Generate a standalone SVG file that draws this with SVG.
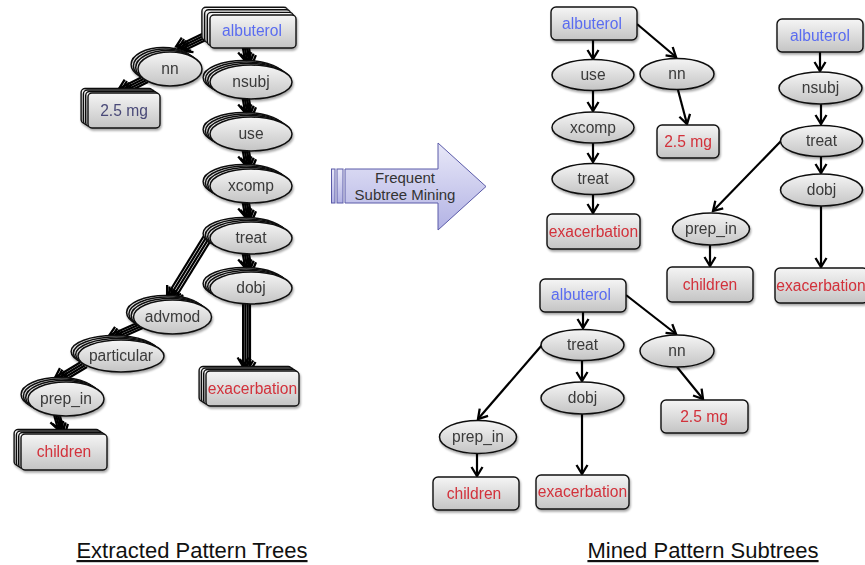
<svg xmlns="http://www.w3.org/2000/svg" xmlns:xlink="http://www.w3.org/1999/xlink" width="865" height="565" viewBox="0 0 865 565">
<style>
.s{fill:url(#g);stroke:#111;stroke-width:1.5}
.b{fill:url(#g);stroke:#111;stroke-width:1.4}
.t{font-family:"Liberation Sans",Arial,sans-serif;font-size:15.6px;text-anchor:middle;fill:#3a3a3a}
.blue{fill:#5a6cf0}
.red{fill:#d2303a}
.navy{fill:#4a4a78}
.e{stroke:#000;stroke-width:2.2;fill:none;marker-end:url(#ah)}
.le{stroke:#000;stroke-width:2.2;fill:none;marker-end:url(#ah2)}
.ttl{font-family:"Liberation Sans",Arial,sans-serif;font-size:22px;text-anchor:middle;fill:#111;text-decoration:underline}
.at{font-family:"Liberation Sans",Arial,sans-serif;font-size:15px;text-anchor:middle;fill:#333}
</style>
<defs>
<linearGradient id="g" x1="0" y1="0" x2="0" y2="1">
<stop offset="0" stop-color="#f5f5f5"/>
<stop offset="1" stop-color="#c4c4c4"/>
</linearGradient>
<linearGradient id="ag" x1="0" y1="0" x2="0" y2="1">
<stop offset="0" stop-color="#e8e8f8"/>
<stop offset="1" stop-color="#b2b2e4"/>
</linearGradient>
<filter id="sh" x="-20%" y="-20%" width="150%" height="160%">
<feDropShadow dx="1" dy="2" stdDeviation="1.3" flood-color="#000" flood-opacity="0.35"/>
</filter>
<marker id="ah" viewBox="-11 -7 13 14" refX="0" refY="0" markerWidth="13" markerHeight="14" markerUnits="userSpaceOnUse" orient="auto">
<path d="M-9,-5.5 L0,0 L-9,5.5" fill="none" stroke="#000" stroke-width="2.3"/>
</marker>
<marker id="ah2" viewBox="-11 -7 13 14" refX="0" refY="0" markerWidth="13" markerHeight="14" markerUnits="userSpaceOnUse" orient="auto">
<path d="M-9,-5.5 L0,0 L-9,5.5" fill="none" stroke="#000" stroke-width="2.3"/>
</marker>
</defs>
<rect width="865" height="565" fill="#fff"/>

<!-- Left connectors (stacked) -->
<g id="connectors-left">
<g id="le0">
<line class="le" x1="210" y1="38" x2="183" y2="51"/>
<line class="le" x1="148" y1="82" x2="126" y2="93"/>
<line class="le" x1="249" y1="48" x2="252" y2="65"/>
<line class="le" x1="249" y1="99" x2="252" y2="117"/>
<line class="le" x1="249" y1="151" x2="252" y2="169"/>
<line class="le" x1="249" y1="203" x2="252" y2="221"/>
<line class="le" x1="211" y1="240" x2="174" y2="300"/>
<line class="le" x1="249" y1="254" x2="252" y2="272"/>
<line class="le" x1="145" y1="327" x2="116" y2="340"/>
<line class="le" x1="87" y1="367" x2="62" y2="382"/>
<line class="le" x1="60" y1="416" x2="65" y2="434"/>
<line class="le" x1="250" y1="304" x2="250" y2="371"/>
</g>
<use xlink:href="#le0" href="#le0" transform="translate(-2.3,-1.5)"/>
<use xlink:href="#le0" href="#le0" transform="translate(-4.6,-3)"/>
<use xlink:href="#le0" href="#le0" transform="translate(-6.9,-4.5)"/>
</g>

<!-- Left stacked nodes -->
<g id="L-albuterol" filter="url(#sh)">
<rect class="b" x="201.9" y="7.2" width="86" height="33" rx="4"/>
<rect class="b" x="204.6" y="9.8" width="86" height="33" rx="4"/>
<rect class="b" x="207.3" y="12.4" width="86" height="33" rx="4"/>
<rect class="b" x="210" y="15" width="86" height="33" rx="4"/>
<text class="t blue" x="252" y="36">albuterol</text>
</g>
<g id="L-nn" filter="url(#sh)">
<ellipse class="s" cx="163.1" cy="64.5" rx="32" ry="17"/>
<ellipse class="s" cx="165.4" cy="66" rx="32" ry="17"/>
<ellipse class="s" cx="167.7" cy="67.5" rx="32" ry="17"/>
<ellipse class="s" cx="170" cy="69" rx="32" ry="17"/>
<text class="t" x="170" y="74">nn</text>
</g>
<g id="L-2.5mg" filter="url(#sh)">
<rect class="b" x="81.1" y="88.5" width="72" height="35" rx="4"/>
<rect class="b" x="83.4" y="90" width="72" height="35" rx="4"/>
<rect class="b" x="85.7" y="91.5" width="72" height="35" rx="4"/>
<rect class="b" x="88" y="93" width="72" height="35" rx="4"/>
<text class="t navy" x="124" y="116">2.5 mg</text>
</g>
<g id="L-nsubj" filter="url(#sh)">
<ellipse class="s" cx="244.1" cy="77.5" rx="41" ry="17"/>
<ellipse class="s" cx="246.4" cy="79" rx="41" ry="17"/>
<ellipse class="s" cx="248.7" cy="80.5" rx="41" ry="17"/>
<ellipse class="s" cx="251" cy="82" rx="41" ry="17"/>
<text class="t" x="251" y="87">nsubj</text>
</g>
<g id="L-use" filter="url(#sh)">
<ellipse class="s" cx="244.1" cy="129.5" rx="41" ry="17"/>
<ellipse class="s" cx="246.4" cy="131" rx="41" ry="17"/>
<ellipse class="s" cx="248.7" cy="132.5" rx="41" ry="17"/>
<ellipse class="s" cx="251" cy="134" rx="41" ry="17"/>
<text class="t" x="251" y="139">use</text>
</g>
<g id="L-xcomp" filter="url(#sh)">
<ellipse class="s" cx="244.1" cy="181.5" rx="41" ry="17"/>
<ellipse class="s" cx="246.4" cy="183" rx="41" ry="17"/>
<ellipse class="s" cx="248.7" cy="184.5" rx="41" ry="17"/>
<ellipse class="s" cx="251" cy="186" rx="41" ry="17"/>
<text class="t" x="251" y="191">xcomp</text>
</g>
<g id="L-treat" filter="url(#sh)">
<ellipse class="s" cx="244.1" cy="233.5" rx="41" ry="16"/>
<ellipse class="s" cx="246.4" cy="235" rx="41" ry="16"/>
<ellipse class="s" cx="248.7" cy="236.5" rx="41" ry="16"/>
<ellipse class="s" cx="251" cy="238" rx="41" ry="16"/>
<text class="t" x="251" y="243">treat</text>
</g>
<g id="L-dobj" filter="url(#sh)">
<ellipse class="s" cx="244.1" cy="283.5" rx="41" ry="16"/>
<ellipse class="s" cx="246.4" cy="285" rx="41" ry="16"/>
<ellipse class="s" cx="248.7" cy="286.5" rx="41" ry="16"/>
<ellipse class="s" cx="251" cy="288" rx="41" ry="16"/>
<text class="t" x="251" y="293">dobj</text>
</g>
<g id="L-advmod" filter="url(#sh)">
<ellipse class="s" cx="165.6" cy="312.5" rx="39" ry="17"/>
<ellipse class="s" cx="167.9" cy="314" rx="39" ry="17"/>
<ellipse class="s" cx="170.2" cy="315.5" rx="39" ry="17"/>
<ellipse class="s" cx="172.5" cy="317" rx="39" ry="17"/>
<text class="t" x="172.5" y="322">advmod</text>
</g>
<g id="L-particular" filter="url(#sh)">
<ellipse class="s" cx="114.1" cy="351.5" rx="43" ry="16"/>
<ellipse class="s" cx="116.4" cy="353" rx="43" ry="16"/>
<ellipse class="s" cx="118.7" cy="354.5" rx="43" ry="16"/>
<ellipse class="s" cx="121" cy="356" rx="43" ry="16"/>
<text class="t" x="121" y="361">particular</text>
</g>
<g id="L-prep_in" filter="url(#sh)">
<ellipse class="s" cx="59.1" cy="394.5" rx="38" ry="17"/>
<ellipse class="s" cx="61.4" cy="396" rx="38" ry="17"/>
<ellipse class="s" cx="63.7" cy="397.5" rx="38" ry="17"/>
<ellipse class="s" cx="66" cy="399" rx="38" ry="17"/>
<text class="t" x="66" y="404">prep_in</text>
</g>
<g id="L-children" filter="url(#sh)">
<rect class="b" x="14.1" y="429.5" width="86" height="36" rx="4"/>
<rect class="b" x="16.4" y="431" width="86" height="36" rx="4"/>
<rect class="b" x="18.7" y="432.5" width="86" height="36" rx="4"/>
<rect class="b" x="21" y="434" width="86" height="36" rx="4"/>
<text class="t red" x="64" y="457">children</text>
</g>
<g id="L-exacerbation" filter="url(#sh)">
<rect class="b" x="199.1" y="366.5" width="93" height="35" rx="4"/>
<rect class="b" x="201.4" y="368" width="93" height="35" rx="4"/>
<rect class="b" x="203.7" y="369.5" width="93" height="35" rx="4"/>
<rect class="b" x="206" y="371" width="93" height="35" rx="4"/>
<text class="t red" x="252.5" y="394">exacerbation</text>
</g>

<!-- Big arrow -->
<g id="mining-arrow">
<rect x="331.5" y="169" width="3.5" height="34" fill="url(#ag)" stroke="#5a5aa8" stroke-width="1"/>
<rect x="337" y="169" width="6" height="34" fill="url(#ag)" stroke="#5a5aa8" stroke-width="1"/>
<path d="M345,169 L438,169 L438,143 L486,186.5 L438,230 L438,203 L345,203 Z" fill="url(#ag)" stroke="#5a5aa8" stroke-width="1"/>
<text class="at" x="405" y="183">Frequent</text>
<text class="at" x="405" y="200">Subtree Mining</text>
</g>

<!-- Right connectors -->
<g id="connectors-right">
<line class="e" x1="593" y1="40" x2="593" y2="59"/>
<line class="e" x1="593" y1="91" x2="593" y2="111"/>
<line class="e" x1="593" y1="143" x2="593" y2="162"/>
<line class="e" x1="593" y1="195" x2="593" y2="213"/>
<line class="e" x1="637" y1="24" x2="676" y2="57"/>
<line class="e" x1="678" y1="90" x2="687" y2="124"/>

<line class="e" x1="820" y1="52" x2="820" y2="71"/>
<line class="e" x1="821" y1="104" x2="821" y2="124"/>
<line class="e" x1="781" y1="141" x2="713" y2="211"/>
<line class="e" x1="821" y1="157" x2="821" y2="173"/>
<line class="e" x1="821" y1="206" x2="821" y2="267"/>
<line class="e" x1="710" y1="245" x2="710" y2="266"/>

<line class="e" x1="583" y1="312" x2="583" y2="328"/>
<line class="e" x1="626" y1="295" x2="676" y2="334"/>
<line class="e" x1="542" y1="345" x2="478" y2="419"/>
<line class="e" x1="582" y1="361" x2="582" y2="381"/>
<line class="e" x1="582" y1="414" x2="582" y2="474"/>
<line class="e" x1="677" y1="367" x2="703" y2="399"/>
<line class="e" x1="477" y1="454" x2="477" y2="476"/>
</g>

<!-- Right tree 1 -->
<g id="T1-albuterol" filter="url(#sh)"><rect class="b" x="551" y="7" width="86" height="33" rx="5"/><text class="t blue" x="592" y="29">albuterol</text></g>
<g id="T1-use" filter="url(#sh)"><ellipse class="s" cx="593" cy="75" rx="41" ry="15.5"/><text class="t" x="593" y="80">use</text></g>
<g id="T1-nn" filter="url(#sh)"><ellipse class="s" cx="677" cy="74" rx="37" ry="15.5"/><text class="t" x="677" y="79">nn</text></g>
<g id="T1-xcomp" filter="url(#sh)"><ellipse class="s" cx="593" cy="127.5" rx="41" ry="15.5"/><text class="t" x="593" y="132.5">xcomp</text></g>
<g id="T1-treat" filter="url(#sh)"><ellipse class="s" cx="593" cy="179" rx="41" ry="15.5"/><text class="t" x="593" y="184">treat</text></g>
<g id="T1-exacerbation" filter="url(#sh)"><rect class="b" x="547" y="214" width="93" height="35" rx="5"/><text class="t red" x="593.5" y="237">exacerbation</text></g>
<g id="T1-2.5mg" filter="url(#sh)"><rect class="b" x="657" y="125" width="62" height="33" rx="5"/><text class="t red" x="688" y="147">2.5 mg</text></g>

<!-- Right tree 2 -->
<g id="T2-albuterol" filter="url(#sh)"><rect class="b" x="777" y="19" width="86" height="33" rx="5"/><text class="t blue" x="820" y="41">albuterol</text></g>
<g id="T2-nsubj" filter="url(#sh)"><ellipse class="s" cx="820.5" cy="88" rx="41.5" ry="16"/><text class="t" x="820.5" y="93">nsubj</text></g>
<g id="T2-treat" filter="url(#sh)"><ellipse class="s" cx="821.5" cy="141" rx="41" ry="15.5"/><text class="t" x="821.5" y="146">treat</text></g>
<g id="T2-dobj" filter="url(#sh)"><ellipse class="s" cx="821.5" cy="190" rx="41" ry="16"/><text class="t" x="821.5" y="195">dobj</text></g>
<g id="T2-prep_in" filter="url(#sh)"><ellipse class="s" cx="711" cy="229" rx="38.5" ry="16"/><text class="t" x="711" y="234">prep_in</text></g>
<g id="T2-children" filter="url(#sh)"><rect class="b" x="667" y="267" width="86" height="35" rx="5"/><text class="t red" x="710" y="290">children</text></g>
<g id="T2-exacerbation" filter="url(#sh)"><rect class="b" x="775" y="268" width="93" height="35" rx="5"/><text class="t red" x="821" y="291">exacerbation</text></g>

<!-- Right tree 3 -->
<g id="T3-albuterol" filter="url(#sh)"><rect class="b" x="540" y="279" width="86" height="33" rx="5"/><text class="t blue" x="581" y="300">albuterol</text></g>
<g id="T3-treat" filter="url(#sh)"><ellipse class="s" cx="582.5" cy="345" rx="41.5" ry="15.5"/><text class="t" x="582.5" y="350">treat</text></g>
<g id="T3-dobj" filter="url(#sh)"><ellipse class="s" cx="582.5" cy="398" rx="41.5" ry="16"/><text class="t" x="582.5" y="403">dobj</text></g>
<g id="T3-nn" filter="url(#sh)"><ellipse class="s" cx="677" cy="351" rx="37" ry="16"/><text class="t" x="677" y="356">nn</text></g>
<g id="T3-2.5mg" filter="url(#sh)"><rect class="b" x="661" y="400" width="87" height="33" rx="5"/><text class="t red" x="704" y="422">2.5 mg</text></g>
<g id="T3-prep_in" filter="url(#sh)"><ellipse class="s" cx="478" cy="437" rx="38.5" ry="16.5"/><text class="t" x="478" y="442">prep_in</text></g>
<g id="T3-children" filter="url(#sh)"><rect class="b" x="433" y="477" width="86" height="33" rx="5"/><text class="t red" x="474" y="499">children</text></g>
<g id="T3-exacerbation" filter="url(#sh)"><rect class="b" x="536" y="475" width="93" height="34" rx="5"/><text class="t red" x="582.5" y="497">exacerbation</text></g>

<!-- Titles -->
<text class="ttl" x="192" y="558">Extracted Pattern Trees</text>
<text class="ttl" x="703" y="558">Mined Pattern Subtrees</text>
</svg>
